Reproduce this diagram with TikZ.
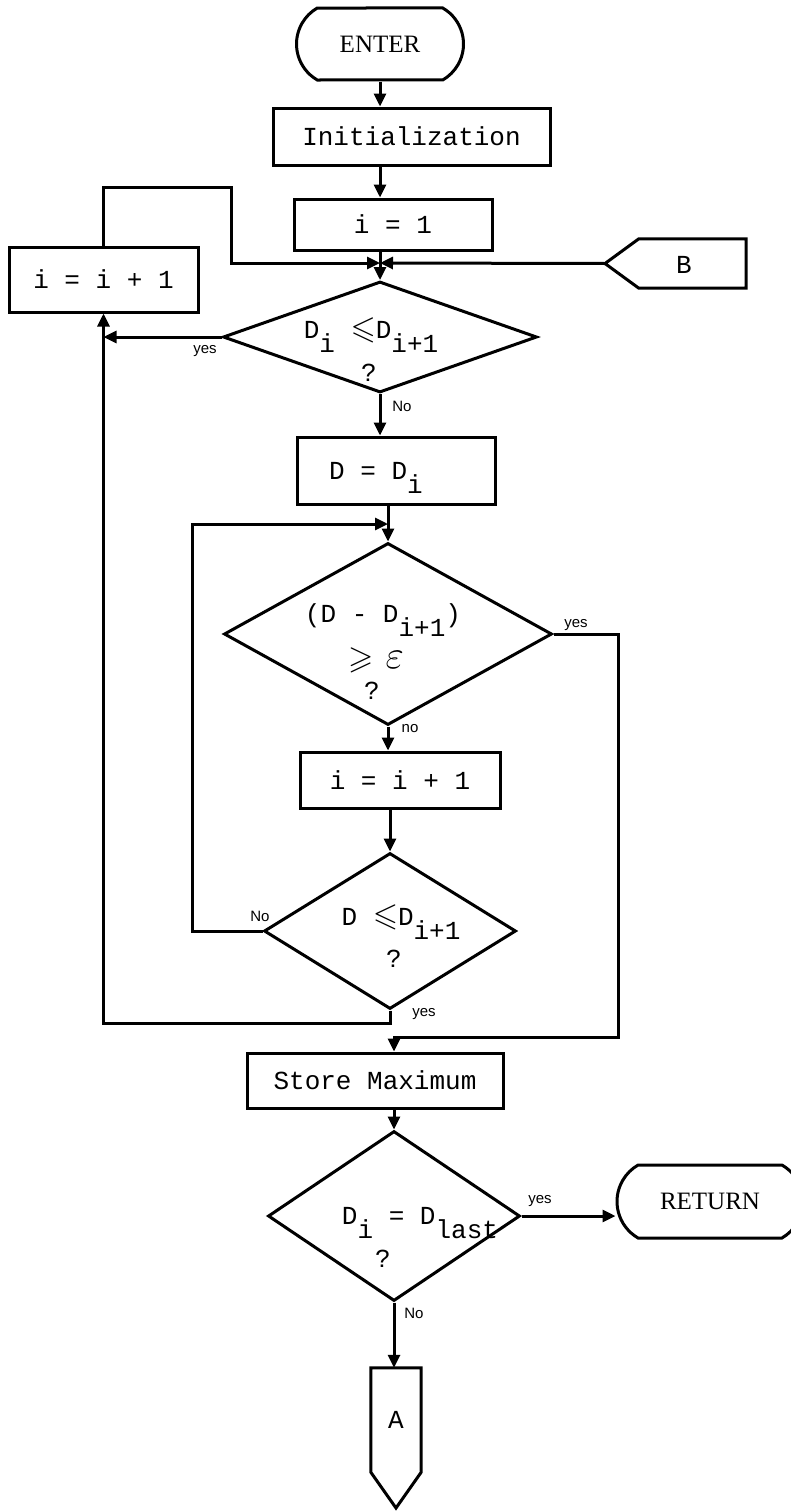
\documentclass[tikz,border=0pt]{standalone}
\usepackage{fontspec}
\usepackage{amssymb}
\setmainfont{Liberation Serif}
\setsansfont{Liberation Sans}
\setmonofont{Liberation Mono}
\usetikzlibrary{shapes.geometric,shapes.misc,arrows.meta}
\newcommand\lo[1]{\raisebox{-0.55em}{#1}}
\newcommand\LE{\scalebox{1.25}{$\leqslant$}}
\newcommand\GE{\scalebox{1.25}{$\geqslant$}}
\newcommand\EPS{\scalebox{1.6}{$\varepsilon$}}
\begin{document}
\begin{tikzpicture}[x=1pt,y=-1pt,
  every node/.style={inner sep=0pt},
  ln/.style={line width=3pt},
  arr/.style={ln,-{Triangle[length=13pt,width=12pt]}},
  pbox/.style={draw,line width=3pt,rectangle,font=\ttfamily\fontsize{26}{30}\selectfont},
  txt/.style={font=\ttfamily\fontsize{26}{30}\selectfont},
  dec/.style={draw,line width=3pt,diamond},
  term/.style={draw,line width=3pt,rounded rectangle,rounded rectangle arc length=120,font=\fontsize{25}{28}\selectfont},
  lab/.style={font=\sffamily\fontsize{15}{17}\selectfont}
]
\useasboundingbox (0,0) rectangle (791,1512);
\fill[white] (0,0) rectangle (791,1512);

\node[term,minimum width=167,minimum height=72] (enter) at (380,44) {ENTER};
\node[pbox,minimum width=277,minimum height=57] (init) at (411.5,136.5) {Initialization};
\node[pbox,minimum width=198,minimum height=51] (i1) at (393,224.5) {i = 1};
\coordinate (j1) at (380,263);

% off-page connector B (pointing left)
\node[minimum width=107,minimum height=49] (b) at (692.5,263.5) {};
\node[txt] (bt) at (684,265) {B};
\coordinate (btip) at (605,263.5);
\draw[ln,line join=miter] (b.north east) -- (b.south east) -- (b.south west) -- (btip) -- (b.north west) -- cycle;

\node[pbox,minimum width=189,minimum height=65] (inc1) at (103.5,279.5) {i = i + 1};

\node[dec,minimum width=314,minimum height=111] (d1) at (380,337) {};
\node[txt,anchor=base] (d1a) at (371,338) {D\lo{i} \LE D\lo{i+1}};
\node[txt,anchor=base] (d1q) at (369,381) {?};

\node[pbox,minimum width=198,minimum height=67] (dd) at (396,470.5) {};
\node[txt,anchor=base] (dda) at (376,479) {D = D\lo{i}};
\coordinate (j2) at (388,524);

\node[dec,minimum width=328,minimum height=182] (d2) at (388,634) {};
\node[txt,anchor=base] (d2a) at (383,622) {(D - D\lo{i+1})};
\node[txt] (d2b) at (376,660) {\GE\hspace{12pt}\EPS};
\node[txt,anchor=base] (d2q) at (372,699) {?};

\node[pbox,minimum width=200,minimum height=56] (inc2) at (400,780) {i = i + 1};

\node[dec,minimum width=252,minimum height=156] (d3) at (390,931) {};
\node[txt,anchor=base] (d3a) at (401,925) {D \LE D\lo{i+1}};
\node[txt,anchor=base] (d3q) at (394,967) {?};

\node[pbox,minimum width=256,minimum height=55] (store) at (375,1080.5) {Store Maximum};

\node[dec,minimum width=252,minimum height=170] (d4) at (394,1216) {};
\node[txt,anchor=base] (d4a) at (420,1224) {D\lo{i} = D\lo{last}};
\node[txt,anchor=base] (d4q) at (383,1267) {?};

\node[term,minimum width=186,minimum height=73] (ret) at (710,1201.5) {RETURN};

% off-page connector A (pointing down)
\node[txt,minimum width=50,minimum height=104] (a) at (396,1420) {A};
\coordinate (atip) at (396,1508);
\draw[ln,line join=miter] (a.south west) -- (a.north west) -- (a.north east) -- (a.south east) -- (atip) -- cycle;

% connectors
\draw[arr] (enter.south) -- (enter.south |- init.north);
\draw[arr] (enter.south |- init.south) -- (enter.south |- i1.north);
\draw[arr] (enter.south |- i1.south) -- (d1.north);
\draw[arr] (inc1.north) |- (231,187) |- (j1);
\draw[arr] (btip) -- (j1);
\draw[arr] (d1.west) -- (d1.west -| inc1.south);
\draw[arr] (d1.south) -- (d1.south |- dd.north);
\draw[arr] (d2.north |- dd.south) -- (d2.north);
\draw[arr] (d3.west) -- ++(-70,0) |- (j2);
\draw[arr] (d2.south) -- (d2.south |- inc2.north);
\draw[arr] (d3.north |- inc2.south) -- (d3.north);
\draw[arr] (d3.south) -- ++(0,13) -| (inc1.south);
\draw[arr] (d2.east) -| (618,1037) -| (d4.north |- store.north);
\draw[arr] (d4.north |- store.south) -- (d4.north);
\draw[arr] (d4.east) -- (d4.east -| ret.west);
\draw[arr] (d4.south) -- (d4.south |- a.north);

% branch labels
\node[lab] (l1) at (205,351) {yes};
\node[lab] (l2) at (402,406) {No};
\node[lab] (l3) at (576,625) {yes};
\node[lab] (l4) at (410,729) {no};
\node[lab] (l5) at (260,916) {No};
\node[lab] (l6) at (424,1014) {yes};
\node[lab] (l7) at (540,1201) {yes};
\node[lab] (l8) at (414,1313) {No};
\end{tikzpicture}
\end{document}
